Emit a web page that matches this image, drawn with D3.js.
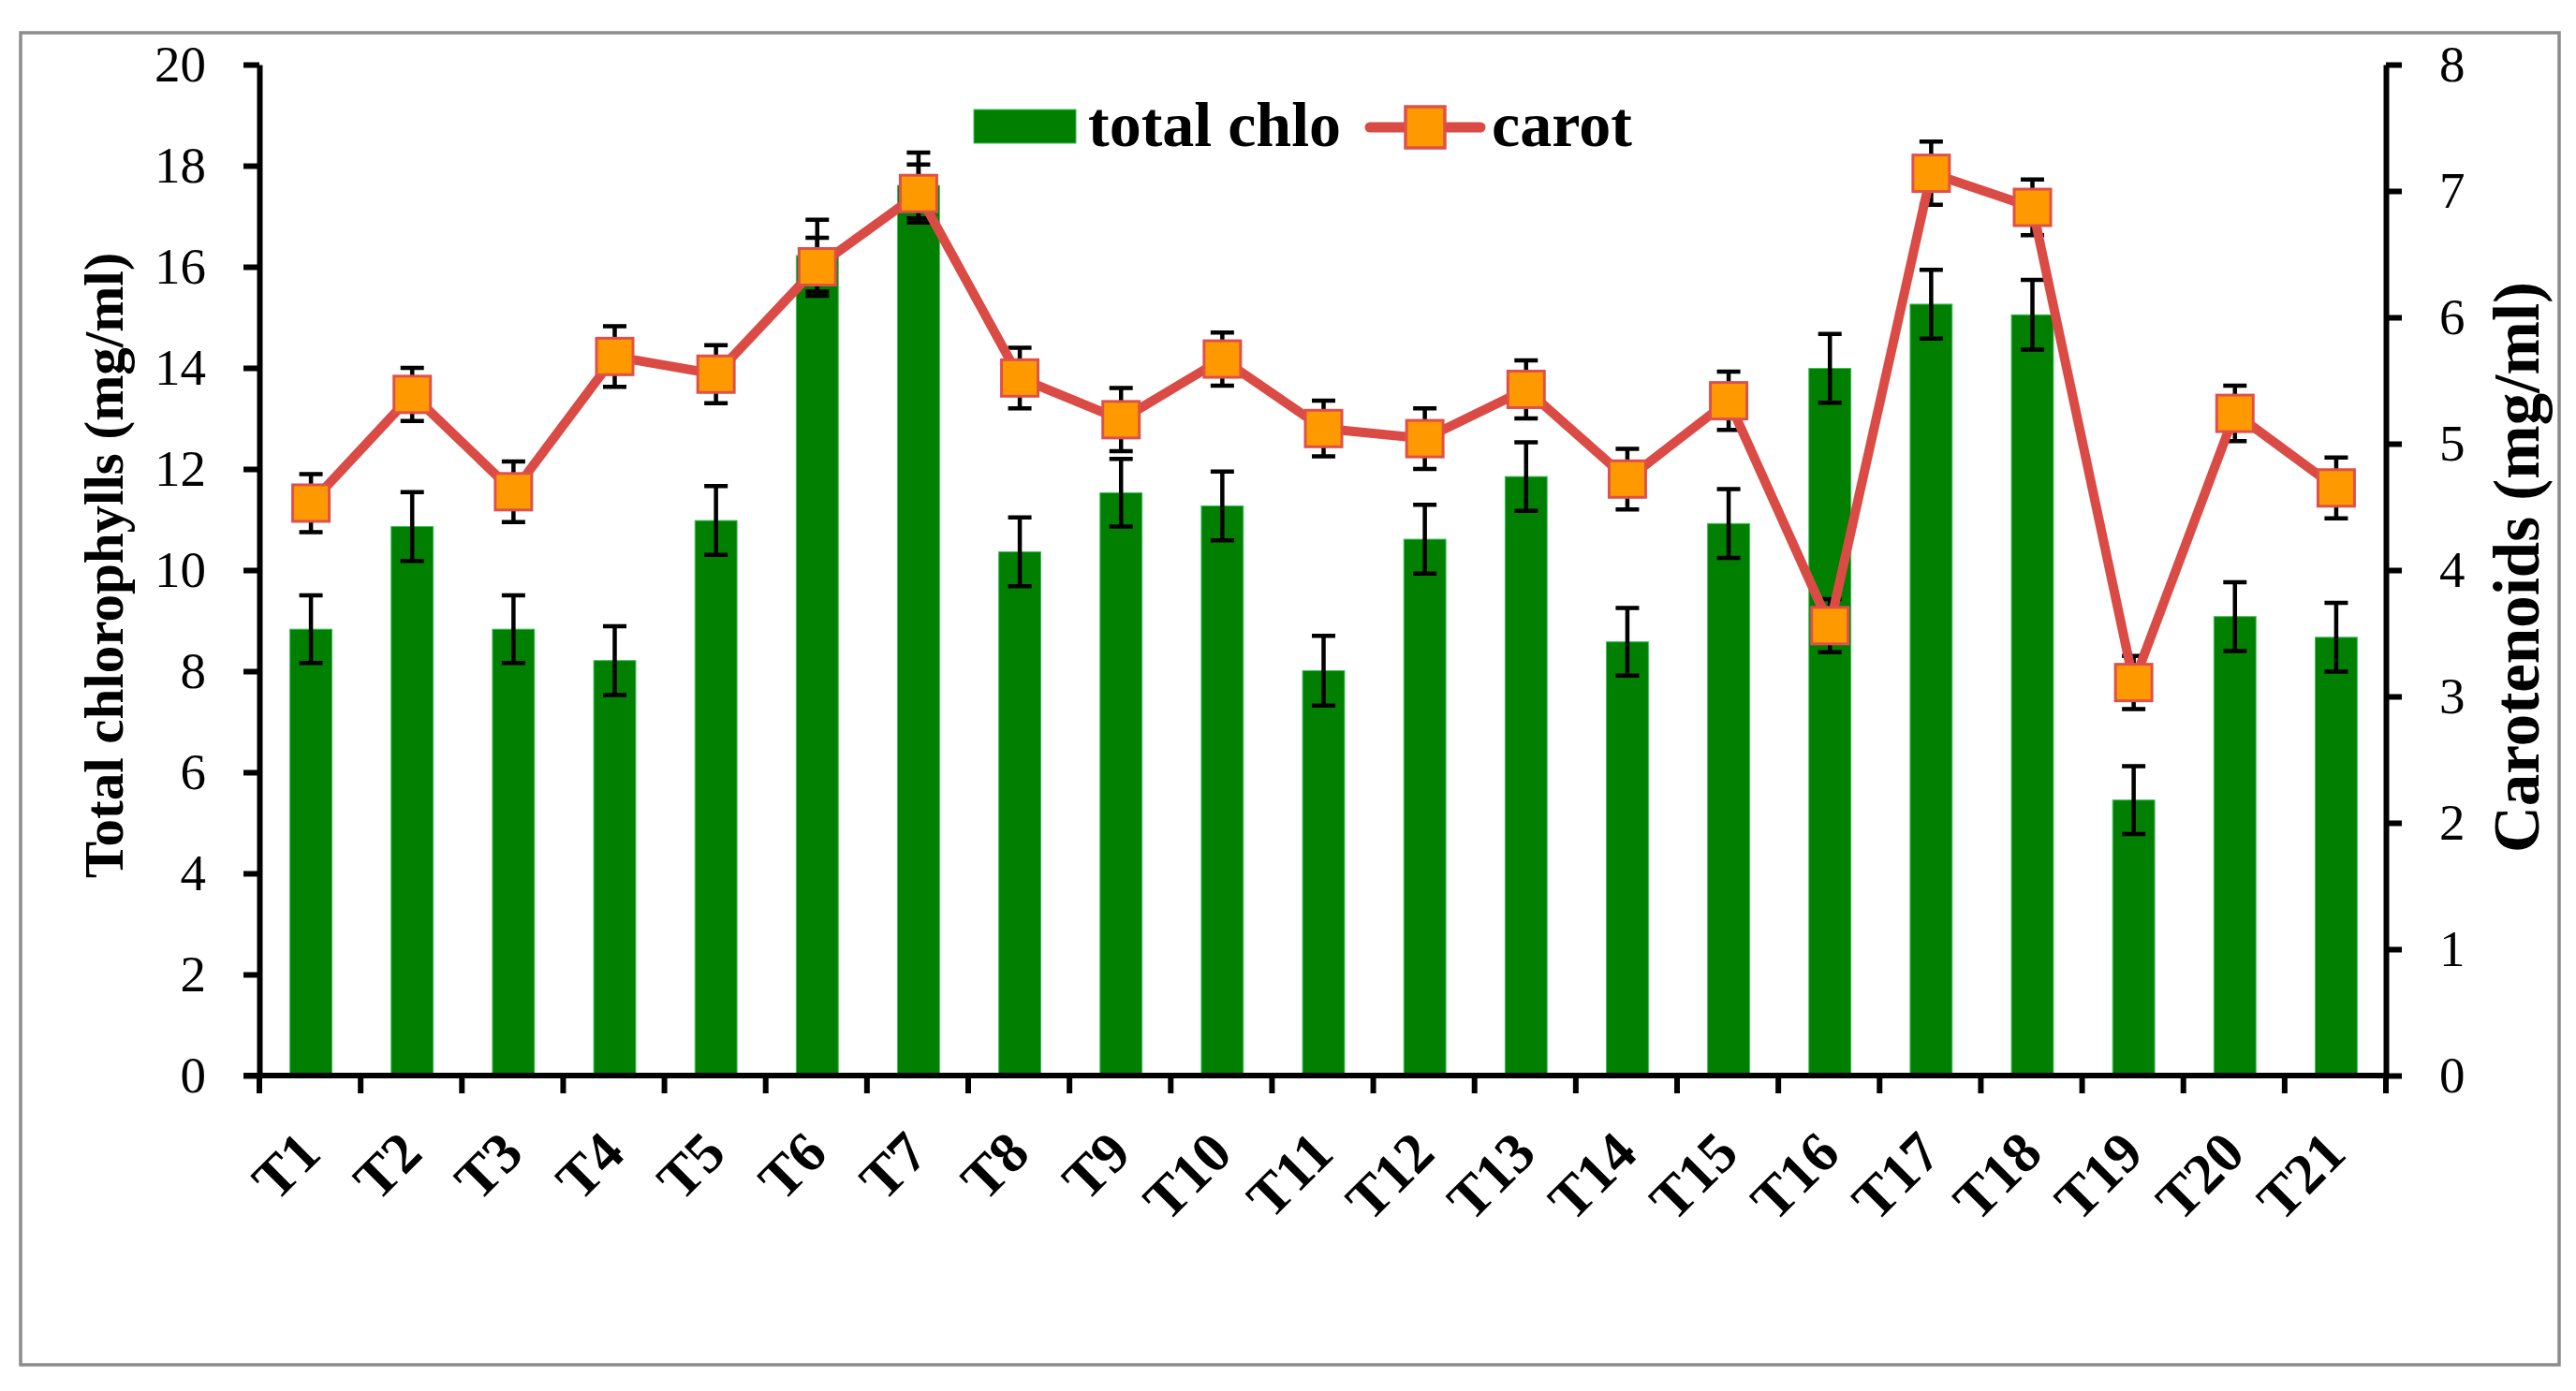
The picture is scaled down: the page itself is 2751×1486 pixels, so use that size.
<!DOCTYPE html>
<html>
<head>
<meta charset="utf-8">
<script src="https://cdn.jsdelivr.net/npm/d3@7"></script>
<style>
  html, body { margin: 0; padding: 0; background: #ffffff; }
  svg { display: block; }
  text { font-family: "Liberation Serif", "Times New Roman", serif; }
</style>
</head>
<body>
<svg id="chart" width="2751" height="1486"></svg>
<script>
// ---- data ----
const categories = ["T1","T2","T3","T4","T5","T6","T7","T8","T9","T10","T11","T12","T13","T14","T15","T16","T17","T18","T19","T20","T21"];
const totalChlo = [8.83, 10.86, 8.83, 8.21, 10.98, 16.22, 17.61, 10.36, 11.53, 11.27, 8.01, 10.61, 11.85, 8.58, 10.92, 13.99, 15.26, 15.05, 5.45, 9.08, 8.67];
const totalChloErr = [0.67, 0.68, 0.67, 0.68, 0.68, 0.71, 0.65, 0.68, 0.67, 0.68, 0.69, 0.68, 0.68, 0.67, 0.68, 0.68, 0.68, 0.69, 0.67, 0.68, 0.68];
const carot = [4.53, 5.39, 4.62, 5.69, 5.55, 6.40, 6.98, 5.52, 5.19, 5.67, 5.12, 5.04, 5.43, 4.72, 5.34, 3.56, 7.14, 6.87, 3.11, 5.24, 4.65];
const carotErr = [0.23, 0.21, 0.24, 0.24, 0.23, 0.23, 0.23, 0.24, 0.25, 0.21, 0.22, 0.24, 0.23, 0.24, 0.23, 0.21, 0.25, 0.22, 0.21, 0.22, 0.24];
const leftTicks = [0, 2, 4, 6, 8, 10, 12, 14, 16, 18, 20];
const rightTicks = [0, 1, 2, 3, 4, 5, 6, 7, 8];
const seriesNames = ["total chlo", "carot"];
const leftTitle = "Total chlorophylls (mg/ml)";
const rightTitle = "Carotenoids (mg/ml)";

// ---- layout ----
const W = 2751, H = 1486;
const plot = { left: 277, right: 2548, top: 69, bottom: 1149 };
const svg = d3.select("#chart");

svg.append("rect").attr("x", 0).attr("y", 0).attr("width", W).attr("height", H).attr("fill", "#ffffff");
// outer frame
svg.append("rect").attr("x", 22).attr("y", 35).attr("width", 2711).attr("height", 1423)
  .attr("fill", "none").attr("stroke", "#8c8c8c").attr("stroke-width", 3.5);

const x = d3.scaleBand().domain(categories).range([plot.left, plot.right]).padding(0);
const yL = d3.scaleLinear().domain([0, 20]).range([plot.bottom, plot.top]);
const yR = d3.scaleLinear().domain([0, 8]).range([plot.bottom, plot.top]);
const bw = x.bandwidth();
const barW = bw * 0.415;
const cx = c => x(c) + bw / 2;

const green = "#007f00";
const lineRed = "#db4b45";
const orange = "#ff9900";

// bars
svg.append("g").selectAll("rect").data(categories).join("rect")
  .attr("x", c => cx(c) - barW / 2 + 1)
  .attr("width", barW)
  .attr("y", (c, i) => yL(totalChlo[i]))
  .attr("height", (c, i) => yL(0) - yL(totalChlo[i]))
  .attr("fill", green)
  .attr("stroke", "#3fbf5f").attr("stroke-width", 1);

// error bars helper
function errBars(g, vals, errs, scale) {
  const cap = 12.5;
  const gg = g.append("g").attr("stroke", "#000").attr("stroke-width", 4.5).attr("fill", "none");
  gg.selectAll("path").data(categories).join("path")
    .attr("d", (c, i) => {
      const xc = cx(c) + 1;
      const y1 = scale(vals[i] + errs[i]), y0 = scale(vals[i] - errs[i]);
      return `M${xc},${y1}V${y0}M${xc - cap},${y1}H${xc + cap}M${xc - cap},${y0}H${xc + cap}`;
    });
}
errBars(svg, totalChlo, totalChloErr, yL);
errBars(svg, carot, carotErr, yR);

// line
const line = d3.line().x((d, i) => cx(categories[i]) + 1).y(d => yR(d));
svg.append("path").datum(carot).attr("d", line)
  .attr("fill", "none").attr("stroke", lineRed).attr("stroke-width", 10).attr("stroke-linejoin", "round");

// markers
const ms = 39;
svg.append("g").selectAll("rect").data(categories).join("rect")
  .attr("x", c => cx(c) + 1 - ms / 2)
  .attr("y", (c, i) => yR(carot[i]) - ms / 2)
  .attr("width", ms).attr("height", ms)
  .attr("fill", orange).attr("stroke", "#e0504a").attr("stroke-width", 3);

// axes
const axisStroke = 6;
const gL = svg.append("g").attr("transform", `translate(${plot.left},0)`)
  .call(d3.axisLeft(yL).tickValues(leftTicks).tickSize(17).tickSizeOuter(0).tickPadding(40));
const gR = svg.append("g").attr("transform", `translate(${plot.right},0)`)
  .call(d3.axisRight(yR).tickValues(rightTicks).tickSize(17).tickSizeOuter(0).tickPadding(40));
[gL, gR].forEach(g => {
  g.select(".domain").attr("stroke", "#000").attr("stroke-width", axisStroke);
  g.selectAll(".tick line").attr("stroke", "#000").attr("stroke-width", axisStroke);
  g.selectAll(".tick text").attr("font-size", 55).attr("fill", "#000")
    .attr("font-family", "Liberation Serif");
});

// x axis line and ticks at category boundaries
const gX = svg.append("g");
gX.append("line").attr("x1", plot.left - 17).attr("x2", plot.right)
  .attr("y1", plot.bottom).attr("y2", plot.bottom)
  .attr("stroke", "#000").attr("stroke-width", axisStroke);
const boundaries = categories.map(c => x(c)).concat([plot.right]);
gX.selectAll("line.tk").data(boundaries).join("line").attr("class", "tk")
  .attr("x1", d => d).attr("x2", d => d)
  .attr("y1", plot.bottom).attr("y2", plot.bottom + 19)
  .attr("stroke", "#000").attr("stroke-width", axisStroke);
gX.selectAll("text").data(categories).join("text")
  .attr("transform", c => `translate(${cx(c) + 14},${plot.bottom + 86}) rotate(-45)`)
  .attr("text-anchor", "end")
  .attr("font-size", 61).attr("font-weight", "bold").attr("fill", "#000")
  .text(c => c);

// axis titles
svg.append("text").attr("transform", `translate(131,604) rotate(-90)`)
  .attr("text-anchor", "middle").attr("font-size", 59).attr("font-weight", "bold")
  .attr("fill", "#000").text(leftTitle);
svg.append("text").attr("transform", `translate(2711,606) rotate(-90)`)
  .attr("text-anchor", "middle").attr("font-size", 69).attr("font-weight", "bold")
  .attr("fill", "#000").text(rightTitle);

// legend
const lg = svg.append("g");
lg.append("rect").attr("x", 1040).attr("y", 117).attr("width", 109).attr("height", 36)
  .attr("fill", green).attr("stroke", "#3fbf5f").attr("stroke-width", 1);
lg.append("text").attr("x", 1162).attr("y", 156).attr("font-size", 68).attr("font-weight", "bold")
  .attr("fill", "#000").text(seriesNames[0]);
lg.append("line").attr("x1", 1463).attr("x2", 1581).attr("y1", 136).attr("y2", 136)
  .attr("stroke", lineRed).attr("stroke-width", 11).attr("stroke-linecap", "round");
lg.append("rect").attr("x", 1522 - 21).attr("y", 136 - 22).attr("width", 42).attr("height", 44)
  .attr("fill", orange).attr("stroke", "#e0504a").attr("stroke-width", 3.5);
lg.append("text").attr("x", 1593).attr("y", 156).attr("font-size", 68).attr("font-weight", "bold")
  .attr("fill", "#000").text(seriesNames[1]);
</script>
</body>
</html>
